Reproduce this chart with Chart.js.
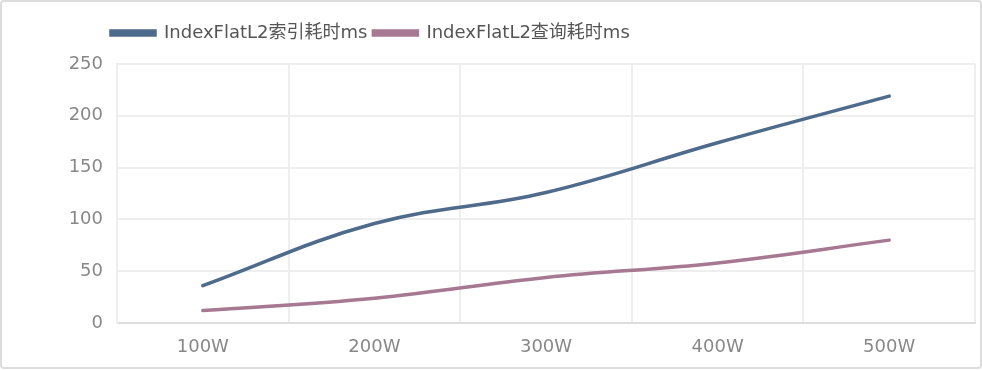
<!DOCTYPE html>
<html>
<head>
<meta charset="utf-8">
<script src="https://cdn.jsdelivr.net/npm/chart.js@4/dist/chart.umd.min.js"></script>
<style>
  html, body { margin:0; padding:0; background:#fff; }
  .wrap { position:relative; width:982px; height:370px; }
  .wrap canvas { position:absolute; left:0; top:0; }
  .frame { position:absolute; left:0; top:0; width:982px; height:369px; box-sizing:border-box;
           border:2px solid #dcdcdc; border-radius:4px; pointer-events:none; }
</style>
</head>
<body>
<div class="wrap">
  <canvas id="chart" width="982" height="370"></canvas>
  <div class="frame"></div>
</div>
<script>
// data
const categories = ['100W', '200W', '300W', '400W', '500W'];
const indexTime = [36, 96, 126, 174, 219];   // IndexFlatL2索引耗时ms
const queryTime = [12, 24, 44, 58, 80];      // IndexFlatL2查询耗时ms
const yTicks = { min: 0, max: 250, step: 50 };

const FONT = 'DejaVu Sans, "Noto Sans CJK SC", sans-serif';
const PLOT_LEFT = 117;   // left edge of plot area
const LEGEND_LEFT = 105;
const LEGEND_EXTRA = 12; // extra gap under legend

// legend: left-aligned start spot + more room below it
const legendShift = {
  id: 'legendShift',
  beforeLayout(chart){
    const lg = chart.legend;
    if(lg && !lg._patched){
      const fit = lg.fit;
      lg.fit = function(){ fit.call(this); this.height += LEGEND_EXTRA; };
      lg._patched = true;
    }
  },
  afterLayout(chart){
    if(chart.legend){ chart.legend.left = LEGEND_LEFT; }
  }
};

const ctx = document.getElementById('chart').getContext('2d');
new Chart(ctx, {
  type: 'line',
  data: {
    labels: categories,
    datasets: [
      { label: 'IndexFlatL2索引耗时ms', data: indexTime, borderColor:'#4e6b8c', backgroundColor:'#4e6b8c',
        borderWidth:3.5, pointRadius:0, tension:0.4, borderCapStyle:'round' },
      { label: 'IndexFlatL2查询耗时ms', data: queryTime, borderColor:'#a67891', backgroundColor:'#a67891',
        borderWidth:3.5, pointRadius:0, tension:0.4, borderCapStyle:'round' }
    ]
  },
  options: {
    responsive:false, animation:false, devicePixelRatio:1,
    layout:{ padding:{ left:0, right:7, top:18, bottom:0 } },
    plugins:{
      tooltip:{ enabled:false },
      legend:{
        position:'top', align:'start',
        labels:{ font:{ family:FONT, size:18 }, color:'#555', boxWidth:44, boxHeight:4, padding:6 }
      }
    },
    scales:{
      x:{
        offset:true,
        grid:{ offset:true, color:'#eeeeee', lineWidth:2, drawTicks:false },
        border:{ color:'#dddddd', width:2 },
        ticks:{ font:{ family:FONT, size:18 }, color:'#888', padding:14 },
        afterFit(scale){ scale.height = 47; }
      },
      y:{
        min:yTicks.min, max:yTicks.max,
        grid:{ color:'#eeeeee', lineWidth:2, drawTicks:false },
        border:{ color:'#eeeeee', width:2 },
        ticks:{ stepSize:yTicks.step, font:{ family:FONT, size:18 }, color:'#888', padding:14 },
        afterFit(scale){ scale.width = PLOT_LEFT; }
      }
    }
  },
  plugins:[legendShift]
});
</script>
</body>
</html>
